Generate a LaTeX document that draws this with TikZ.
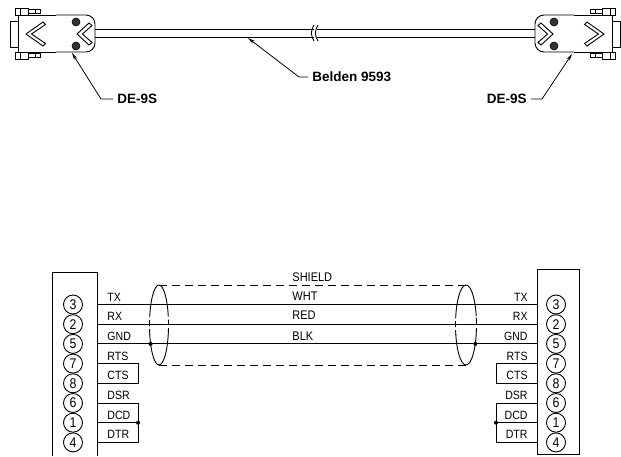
\documentclass[tikz,border=0pt]{standalone}
\usepackage{fontspec}
\setmainfont{Liberation Sans}
\newfontfamily\condfont{Liberation Sans}[FakeStretch=0.88]
\usetikzlibrary{arrows.meta}
\tikzset{
    pinnode/.style = {draw,circle,inner sep=0,minimum size=19pt,font=\condfont\fontsize{14}{14}\selectfont},
    siglbl/.style = {inner sep=0,font=\condfont\fontsize{12}{13}\selectfont},
    cablelbl/.style = {inner sep=0,font=\condfont\fontsize{12.5}{13}\selectfont},
    partlbl/.style = {inner sep=4pt,font=\bfseries\fontsize{13.5}{15}\selectfont},
    leader/.style = {line width=0.8pt,-{Stealth[length=7pt,width=3.5pt]}},
    shieldline/.style = {dash pattern=on 8pt off 5pt},
    junction/.style = {circle,fill,inner sep=0,minimum size=4pt}
}
\tikzset{
    dsub/.pic = {
        % flange and shell
        \draw (10,21) rectangle (18,47);
        \draw (56,15) -- (18,15) -- (18,52) -- (56,52);
        \draw[rounded corners=9pt] (56,15) -- (95,15) -- (95,52) -- (56,52);
        % jack screws
        \foreach \ya/\yb/\yc/\yd in {8/15/9.5/13.5,52/59/53.5/57.5} {
            \draw (15,\ya) rectangle (28,\yb) (20,\ya) -- (20,\yb);
            \draw (28,\yc) rectangle (40,\yd) (35,\yc) -- (35,\yd);
        }
        % chevrons
        \draw (43,22) -- (26,34) -- (43,46) -- (45.5,43.5) -- (31.5,34) -- (45.5,24.5) -- cycle;
        \draw (89,23) -- (77,34) -- (89,45) -- (92,42.5) -- (82.5,34) -- (92,25.5) -- cycle;
        % screw heads
        \foreach \sy in {22,46}
            \filldraw[fill=black!80,line width=0.6pt] (76,\sy) circle (4);
        % cable half
        \draw (95,29) -- (313.5,29) (95,37) -- (313.5,37);
    }
}

\begin{document}
\begin{tikzpicture}[x=1pt,y=-1pt,line width=0.9pt]
    \newcommand\pinsep{19.7}
    \useasboundingbox (0,0) rectangle (621,456);
    % Connectors and cable
    \pic at (0,0) {dsub};
    \pic[xscale=-1] at (630,0) {dsub};
    \foreach \bx in {314,318}
        \draw (\bx,25) .. controls (\bx-3.5,31) and (\bx-3.5,35) .. (\bx,41);
    % Part labels
    \node[partlbl,anchor=west] (deleft) at (113,99) {DE-9S};
    \node[partlbl,anchor=east] (deright) at (531,99) {DE-9S};
    \node[partlbl,anchor=west] (belden) at (308,77) {Belden 9593};
    \coordinate (tipleft) at (72,53);
    \coordinate (tipright) at (572,54);
    \coordinate (tipcable) at (248,38);
    \draw[leader] (deleft.west) -- ++(-12,0) -- (tipleft);
    \draw[leader] (deright.east) -- ++(11,0) -- (tipright);
    \draw[leader] (belden.west) -- ++(-9,0) -- (tipcable);
    % Pin blocks
    \draw (52,456) |- (97,272) -- (97,456);
    \draw (537,269) rectangle (579,454);
    \foreach \pnum/\sig [count=\i from 0] in {3/TX,2/RX,5/GND,7/RTS,8/CTS,6/DSR,1/DCD,4/DTR} {
        \node[pinnode] (lp\sig) at (73,{304.5+\i*\pinsep}) {\pnum};
        \node[pinnode] (rp\sig) at (556,{304.5+\i*\pinsep}) {\pnum};
        \coordinate (l\sig) at (97,{304.5+\i*\pinsep});
        \coordinate (r\sig) at (537,{304.5+\i*\pinsep});
        \node[siglbl,anchor=base west] (ll\sig) at ([xshift=10,yshift=3.5]l\sig) {\sig};
        \node[siglbl,anchor=base east] (rl\sig) at ([xshift=-9,yshift=3.5]r\sig) {\sig};
    }
    % Wires
    \foreach \sig in {TX,RX,GND}
        \draw (l\sig) -- (r\sig);
    % Loop backs
    \draw (lRTS) -| ([xshift=41]lCTS) -- (lCTS);
    \draw (lDSR) -| ([xshift=41]lDTR) -- (lDTR);
    \draw (lDCD) -- ([xshift=41]lDCD) node[junction] (ljdcd) {};
    \draw (rRTS) -| ([xshift=-41]rCTS) -- (rCTS);
    \draw (rDSR) -| ([xshift=-41]rDTR) -- (rDTR);
    \draw (rDCD) -- ([xshift=-41]rDCD) node[junction] (rjdcd) {};
    % Shield
    \coordinate (lshield) at (159,325);
    \coordinate (rshield) at (466,325);
    \draw[shieldline] (159,285) -- (466,285);
    \draw[shieldline] (159,365) -- (466,365);
    \begin{scope}
        \clip (140,270) rectangle (490,316) (140,334) rectangle (490,380);
        \draw (lshield) ellipse [x radius=9.5,y radius=40];
        \draw (rshield) ellipse [x radius=10.5,y radius=40];
    \end{scope}
    \begin{scope}
        \clip (140,316) rectangle (490,334);
        \draw[dash pattern=on 6pt off 3pt,dash phase=-3pt] (lshield) ellipse [x radius=9.5,y radius=40];
        \draw[dash pattern=on 6pt off 3pt,dash phase=-3pt] (rshield) ellipse [x radius=10.5,y radius=40];
    \end{scope}
    \node[junction] (lgndj) at (150.6,343.9) {};
    \node[junction] (rgndj) at (475.3,343.9) {};
    % Conductor labels
    \node[cablelbl,anchor=base west] (shieldlbl) at (292,281) {SHIELD};
    \node[cablelbl,anchor=base west] (whtlbl) at (292,300) {WHT};
    \node[cablelbl,anchor=base west] (redlbl) at (292,319.5) {RED};
    \node[cablelbl,anchor=base west] (blklbl) at (292,340.5) {BLK};
\end{tikzpicture}
\end{document}
